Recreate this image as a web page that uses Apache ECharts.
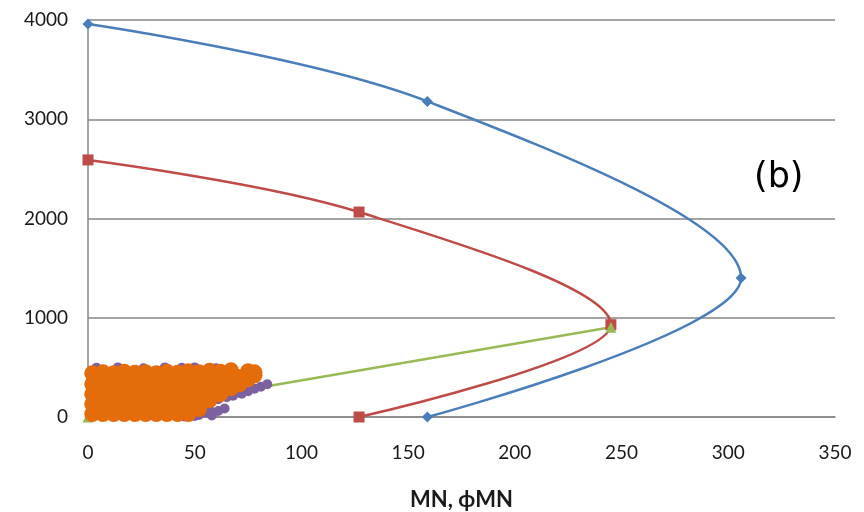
<!DOCTYPE html>
<html>
<head>
<meta charset="utf-8">
<script src="https://cdn.jsdelivr.net/npm/echarts@6/dist/echarts.min.js"></script>
<style>html,body{margin:0;padding:0;background:#fff}#c{width:864px;height:512px}</style>
</head>
<body>
<div id="c"></div>
<script>
// Data
const blueCurve = [[0, 3960], [159, 3180], [306, 1400], [159, 0]];
const redCurve = [[0, 2590], [127, 2065], [245, 930], [127, 0]];
const greenLine = [[0, 0], [245, 905]];
const purplePoints = [
  [52, 20], [55, 45], [58, 15], [61, 60], [64, 85], [57, 70], [45, 5], [50, 10],
  [61, 180], [65, 200], [68, 215], [72, 235], [75, 260], [78, 285], [81, 305], [84, 330],
  [42, 320], [4, 495], [14, 500], [26, 490], [36, 500], [44, 495], [50, 500], [60, 490]
];
const orangePoints = [
  [2, 30], [2, 130], [2, 230], [2, 330], [2, 440],
  [7, 30], [7, 130], [7, 230], [7, 330], [7, 450],
  [12, 30], [12, 130], [12, 230], [12, 330], [12, 440],
  [17, 30], [17, 130], [17, 230], [17, 330], [17, 455],
  [22, 30], [22, 130], [22, 230], [22, 330], [22, 445],
  [27, 30], [27, 130], [27, 230], [27, 330], [27, 450],
  [32, 30], [32, 130], [32, 230], [32, 330], [32, 440],
  [37, 30], [37, 130], [37, 230], [37, 330], [37, 455],
  [42, 30], [42, 130], [42, 230], [42, 330], [42, 445],
  [47, 30], [47, 130], [47, 230], [47, 330], [47, 460],
  [52, 80], [52, 180], [52, 280], [52, 380], [52, 450],
  [57, 170], [57, 270], [57, 370], [57, 465],
  [62, 230], [62, 330], [62, 430], [62, 455],
  [67, 290], [67, 380], [67, 470],
  [71, 330], [71, 400],
  [75, 380], [75, 460],
  [78, 420], [78, 450]
];
const xTicks = [0, 50, 100, 150, 200, 250, 300, 350];
const yTicks = [0, 1000, 2000, 3000, 4000];
const xTitle = 'MN, ϕMN';
const panelLabel = '(b)';

const font = 'Lato, "Open Sans", sans-serif';
const chart = echarts.init(document.getElementById('c'), null, {renderer: 'canvas'});
chart.setOption({
  animation: false,
  backgroundColor: '#fff',
  grid: {left: 88, right: 29, top: 20, bottom: 95, containLabel: false, outerBoundsMode: 'none'},
  xAxis: {
    type: 'value', min: xTicks[0], max: xTicks[xTicks.length - 1], interval: 50,
    name: xTitle, nameLocation: 'middle', nameGap: 72,
    nameTextStyle: {fontFamily: font, fontWeight: 'bold', fontSize: 22, color: '#1a1a1a'},
    axisLine: {show: true, onZero: false, lineStyle: {color: '#868686', width: 1.5}},
    axisTick: {show: false},
    splitLine: {show: false},
    axisLabel: {fontFamily: font, fontSize: 19, color: '#1a1a1a', margin: 26}
  },
  yAxis: {
    type: 'value', min: yTicks[0], max: yTicks[yTicks.length - 1], interval: 1000,
    axisLine: {show: true, onZero: false, lineStyle: {color: '#868686', width: 1.5}},
    axisTick: {show: false},
    splitLine: {show: true, lineStyle: {color: '#868686', width: 1.5}},
    axisLabel: {fontFamily: font, fontSize: 19, color: '#1a1a1a', margin: 20,
                formatter: v => String(v)}
  },
  graphic: [{
    type: 'text', left: 754, top: 160,
    style: {text: panelLabel, fontFamily: '"DejaVu Sans", sans-serif', fontSize: 35, fill: '#000'}
  }],
  series: [
    {type: 'line', data: blueCurve, smooth: 0.35, symbol: 'diamond', symbolSize: 11, z: 2,
     lineStyle: {color: '#4A7EBB', width: 2.5}, itemStyle: {color: '#4A7EBB'}},
    {type: 'line', data: redCurve, smooth: 0.35, symbol: 'rect', symbolSize: 11, z: 2,
     lineStyle: {color: '#BE4B48', width: 2.5}, itemStyle: {color: '#BE4B48'}},
    {type: 'line', data: greenLine, symbol: 'triangle', symbolSize: 11, z: 2,
     lineStyle: {color: '#98B954', width: 2.5}, itemStyle: {color: '#98B954'}},
    {type: 'scatter', data: purplePoints, symbol: 'circle', symbolSize: 10, z: 4,
     itemStyle: {color: '#7D60A0', opacity: 1}},
    {type: 'scatter', data: orangePoints, symbol: 'circle', symbolSize: 16, z: 5,
     itemStyle: {color: '#E46C0A', opacity: 1}}
  ]
});
</script>
</body>
</html>
